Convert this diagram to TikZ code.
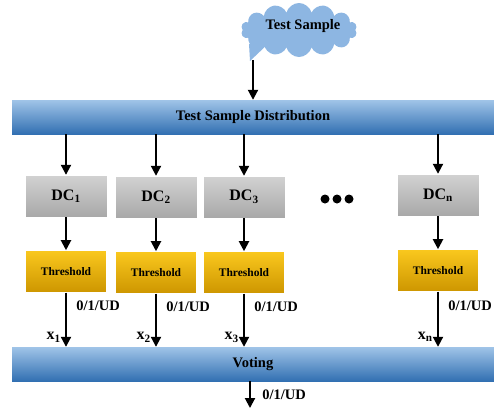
\documentclass[tikz,border=0pt]{standalone}
\usepackage{fontspec}
\setmainfont{Liberation Serif}
\usetikzlibrary{positioning, arrows.meta, shapes.symbols}
\definecolor{barTop}{RGB}{160,196,232}
\definecolor{barBot}{RGB}{50,112,178}
\definecolor{cloudBlue}{RGB}{141,182,226}
\definecolor{thrTop}{RGB}{250,200,30}
\definecolor{thrBot}{RGB}{205,150,0}

\begin{document}
\begin{tikzpicture}[x=1pt, y=-1pt, font=\fontsize{14.5}{16}\selectfont\bfseries,
                    bar/.style={shape=rectangle, top color=barTop, bottom color=barBot,
                                minimum width=482pt, minimum height=34pt},
                    dc/.style={shape=rectangle, top color=gray!35, bottom color=gray!68,
                               draw=white, minimum width=82pt, minimum height=42pt,
                               font=\fontsize{16}{18}\selectfont\bfseries},
                    thr/.style={shape=rectangle, top color=thrTop, bottom color=thrBot,
                                draw=white, minimum width=81pt, minimum height=42pt,
                                font=\fontsize{11.5}{13}\selectfont\bfseries},
                    arr/.style={line width=2pt, -{Triangle[width=10pt, length=10pt]}}]
    \useasboundingbox (0,0) rectangle (494,408);
    % cloud with its little tail
    \fill[cloudBlue] (250,61) -- (249,44) -- (270,42) -- cycle;
    \node[shape=cloud, cloud puffs=14, aspect=2.2, fill=cloudBlue, minimum width=116pt,
          minimum height=54pt, inner sep=0pt] (cloud) at (299,30) {};
    \node at (303,26) {Test Sample};
    \coordinate (tail) at (253,60);
    % bars
    \node[bar] (dist) at (253,117) {Test Sample Distribution};
    \node[bar] (vote) at (253,364) {Voting};
    % classifiers
    \node[dc] (d1) at (66,196) {DC\(_{\mathbf{1}}\)};
    \node[dc] (d2) at (156,197) {DC\(_{\mathbf{2}}\)};
    \node[dc] (d3) at (244,197) {DC\(_{\mathbf{3}}\)};
    \node[dc] (dn) at (438,195) {DC\(_{\mathbf{n}}\)};
    \foreach \x in {325,337,349}
        \fill (\x,199) circle (4.5pt);
    \node[thr, below=33pt of d1] (t1) {Threshold};
    \node[thr, below=33pt of d2] (t2) {Threshold};
    \node[thr, below=33pt of d3] (t3) {Threshold};
    \node[thr, below=33pt of dn] (tn) {Threshold};
    \coordinate (out) at (250,408);

    \draw[arr] (tail) -- (dist.north -| tail);
    \foreach \i in {1,2,3,n}
    {
        \draw[arr] (dist.south -| d\i) -- (d\i);
        \draw[arr] (d\i) -- (t\i);
        \draw[arr] (t\i) -- (vote.north -| t\i)
            node[pos=0.25, right=6pt] {0/1/UD}
            node[pos=0.82, left=1pt, font=\fontsize{16}{18}\selectfont\bfseries] {x\(_{\mathbf{\i}}\)};
    }
    \draw[arr] (vote.south -| out) -- (out) node[midway, right=8pt] {0/1/UD};
\end{tikzpicture}
\end{document}
